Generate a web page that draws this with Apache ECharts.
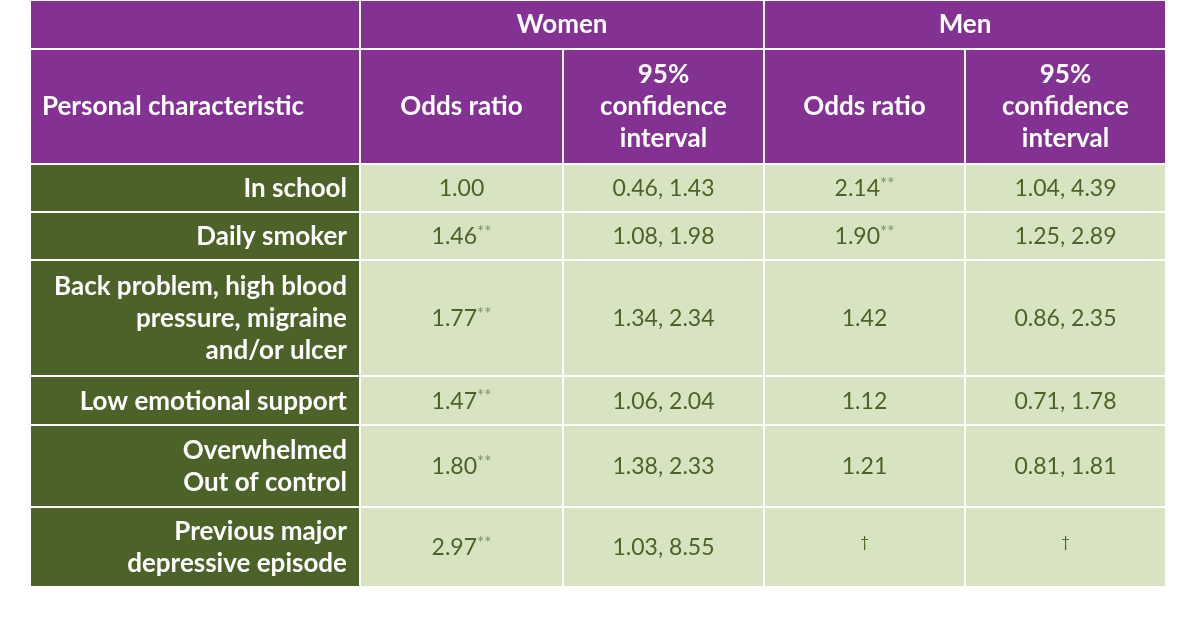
<!DOCTYPE html>
<html><head><meta charset="utf-8">
<script src="https://cdn.jsdelivr.net/npm/echarts@6/dist/echarts.min.js"></script>
<style>html,body{margin:0;padding:0;background:#fff}#c{width:1200px;height:625px}</style>
</head><body><div id="c"></div>
<script>
// ---- data ----
var groups = ['Women', 'Men'];
var columnHeaders = ['Personal characteristic', 'Odds ratio', '95%\nconfidence\ninterval', 'Odds ratio', '95%\nconfidence\ninterval'];
var characteristics = ['In school', 'Daily smoker', 'Back problem, high blood\npressure, migraine\nand/or ulcer', 'Low emotional support', 'Overwhelmed\nOut of control', 'Previous major\ndepressive episode'];
var womenOR = [1.00, 1.46, 1.77, 1.47, 1.80, 2.97];
var womenSig = [false, true, true, true, true, true];
var womenCI = [[0.46, 1.43], [1.08, 1.98], [1.34, 2.34], [1.06, 2.04], [1.38, 2.33], [1.03, 8.55]];
var menOR = [2.14, 1.90, 1.42, 1.12, 1.21, null];
var menSig = [true, true, false, false, false, false];
var menCI = [[1.04, 4.39], [1.25, 2.89], [0.86, 2.35], [0.71, 1.78], [0.81, 1.81], null];

// ---- layout (axis units) ----
var colEdges = [[31, 359], [361, 562], [564, 763], [765, 964], [966, 1165]];
var rowEdges = [[1, 48], [50, 163], [165, 211], [213, 259], [261, 375], [377, 424], [426, 506], [508, 586]];

var PURPLE = '#833192', DARK = '#4b6328', LIGHT = '#d8e4c1', TXT = '#4b6328', SUP = '#7f8f66';

function fmt(v) { return v.toFixed(2); }
function orText(v, sig) {
  if (v == null) return '{d|\u2020}';
  return '{v|' + fmt(v) + '}' + (sig ? '{s|**}' : '');
}
function ciText(ci) {
  if (ci == null) return '{d|\u2020}';
  return '{v|' + fmt(ci[0]) + ', ' + fmt(ci[1]) + '}';
}

var cells = [];
function addCell(c0, c1, r0, r1, text, kind) {
  cells.push({ value: [colEdges[c0][0], colEdges[c1][1], rowEdges[r0][0], rowEdges[r1][1]], text: text, kind: kind });
}
addCell(0, 0, 0, 0, '', 'head');
addCell(1, 2, 0, 0, groups[0], 'headc');
addCell(3, 4, 0, 0, groups[1], 'headc');
addCell(0, 0, 1, 1, columnHeaders[0], 'headl');
for (var c = 1; c < 5; c++) addCell(c, c, 1, 1, columnHeaders[c], 'headc');
for (var i = 0; i < characteristics.length; i++) {
  var r = i + 2;
  addCell(0, 0, r, r, characteristics[i], 'label');
  addCell(1, 1, r, r, orText(womenOR[i], womenSig[i]), 'val');
  addCell(2, 2, r, r, ciText(womenCI[i]), 'val');
  addCell(3, 3, r, r, orText(menOR[i], menSig[i]), 'val');
  addCell(4, 4, r, r, ciText(menCI[i]), 'val');
}

var FONT = 'Lato, "Open Sans", sans-serif';
var chart = echarts.init(document.getElementById('c'), null, { renderer: 'canvas' });
chart.setOption({
  animation: false,
  grid: { left: 0, right: 0, top: 0, bottom: 0 },
  xAxis: { type: 'value', min: 0, max: 1200, show: false },
  yAxis: { type: 'value', min: 0, max: 625, inverse: true, show: false },
  series: [{
    type: 'custom',
    coordinateSystem: 'cartesian2d',
    data: cells,
    renderItem: function (params, api) {
      var d = cells[params.dataIndex];
      var p0 = api.coord([api.value(0), api.value(2)]);
      var p1 = api.coord([api.value(1), api.value(3)]);
      var x = p0[0], y = p0[1], w = p1[0] - p0[0], h = p1[1] - p0[1];
      var fill = d.kind === 'label' ? DARK : (d.kind === 'val' ? LIGHT : PURPLE);
      var children = [{ type: 'rect', shape: { x: x, y: y, width: w, height: h }, style: { fill: fill } }];
      if (d.text) {
        var st;
        if (d.kind === 'headc' || d.kind === 'headl') {
          st = { text: d.text, fill: '#fff', font: 'bold 26px ' + FONT, lineHeight: 32,
                 x: d.kind === 'headl' ? x + 11 : x + w / 2, y: y + h / 2,
                 align: d.kind === 'headl' ? 'left' : 'center', verticalAlign: 'middle' };
        } else if (d.kind === 'label') {
          st = { text: d.text, fill: '#fff', font: 'bold 26px ' + FONT, lineHeight: 32,
                 x: x + w - 12, y: y + h / 2 + 1, align: 'right', verticalAlign: 'middle' };
        } else {
          st = { text: d.text, x: x + w / 2, y: y + h / 2 + 1, align: 'center', verticalAlign: 'middle',
                 rich: {
                   v: { fill: TXT, fontSize: 23, fontFamily: FONT, lineHeight: 26 },
                   s: { fill: SUP, fontSize: 17, fontFamily: FONT, lineHeight: 20, verticalAlign: 'top', padding: [0, 0, 6, 0] },
                   d: { fill: TXT, fontSize: 15, fontFamily: FONT, lineHeight: 26, padding: [0, 0, 12, 0] }
                 } };
        }
        children.push({ type: 'text', style: st });
      }
      return { type: 'group', children: children };
    }
  }]
});
</script></body></html>
